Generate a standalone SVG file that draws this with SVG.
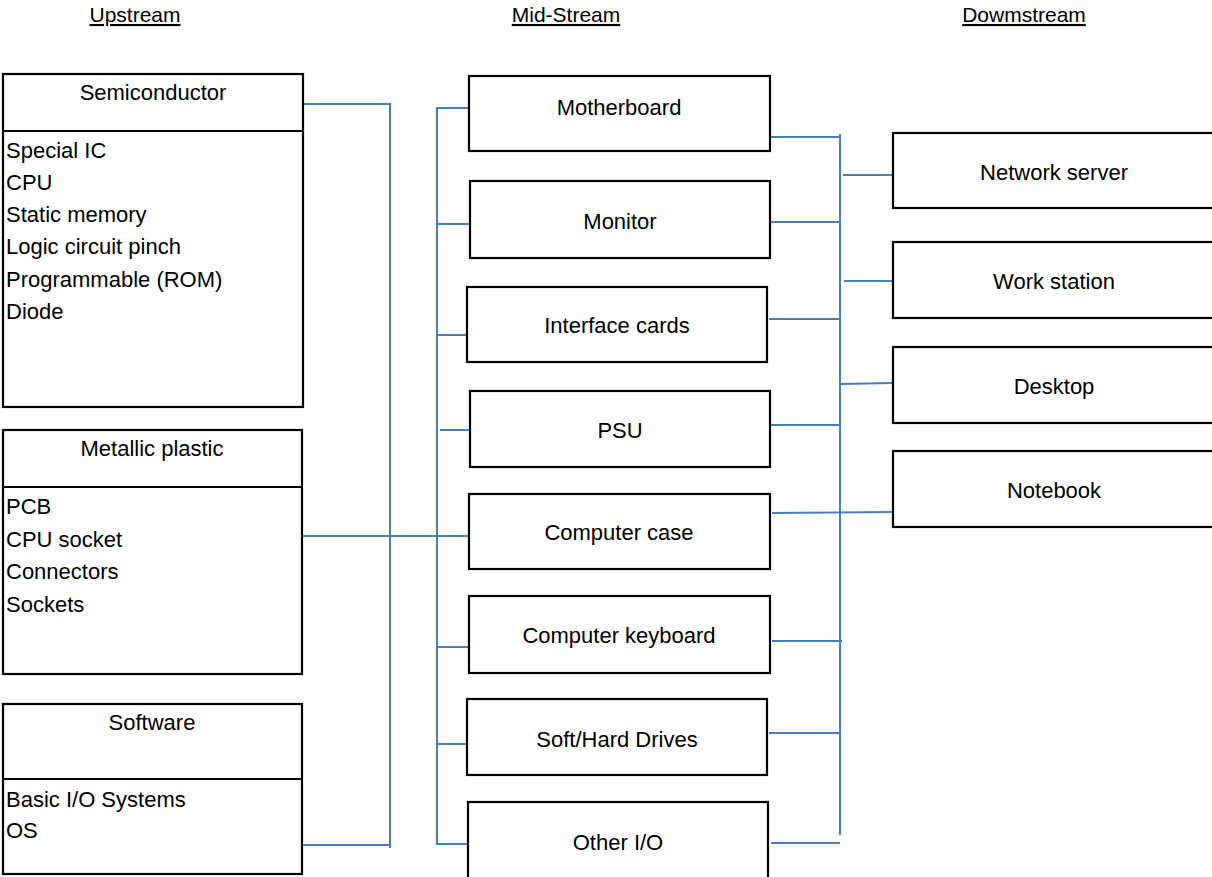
<svg xmlns="http://www.w3.org/2000/svg" width="1212" height="877" viewBox="0 0 1212 877">
<style>
.box{fill:#fff;stroke:#000;stroke-width:2.2}
.div{stroke:#000;stroke-width:2.2}
.t{font-family:"Liberation Sans",Arial,sans-serif;font-size:22px;fill:#000}
.c{text-anchor:middle}
.h{text-decoration:underline;font-size:21px}
.ln{stroke:#4a7ebb;stroke-width:2;fill:none}
</style>
<rect width="1212" height="877" fill="#fff"/>
<g id="headers">
<text class="t c h" x="135" y="22">Upstream</text>
<text class="t c h" x="566" y="22">Mid-Stream</text>
<text class="t c h" x="1024" y="22">Dowmstream</text>
</g>
<g id="connectors">
<path class="ln" d="M303 104H390V848"/>
<path class="ln" d="M303 845H390"/>
<path class="ln" d="M303 536H469"/>
<path class="ln" d="M469 108H437V844H468"/>
<path class="ln" d="M437 224H470"/>
<path class="ln" d="M437 335H467"/>
<path class="ln" d="M440 430H470"/>
<path class="ln" d="M438 647H469"/>
<path class="ln" d="M437 744H467"/>
<path class="ln" d="M770 137H840"/>
<path class="ln" d="M840 134V835"/>
<path class="ln" d="M771 222H840"/>
<path class="ln" d="M769 319H840"/>
<path class="ln" d="M770 425H840"/>
<path class="ln" d="M772 513L893 512"/>
<path class="ln" d="M772 641H842"/>
<path class="ln" d="M769 733H840"/>
<path class="ln" d="M771 843H840"/>
<path class="ln" d="M843 175H893"/>
<path class="ln" d="M844 281H893"/>
<path class="ln" d="M841 384L892 383"/>
</g>
<g id="semiconductor">
<rect class="box" x="3" y="74" width="300" height="333"/>
<line class="div" x1="3" y1="131" x2="303" y2="131"/>
<text class="t c" x="153" y="100">Semiconductor</text>
<text class="t" x="6" y="158">Special IC</text>
<text class="t" x="6" y="190">CPU</text>
<text class="t" x="6" y="222">Static memory</text>
<text class="t" x="6" y="254">Logic circuit pinch</text>
<text class="t" x="6" y="287">Programmable (ROM)</text>
<text class="t" x="6" y="319">Diode</text>
</g>
<g id="metallic">
<rect class="box" x="3" y="430" width="299" height="244"/>
<line class="div" x1="3" y1="487" x2="302" y2="487"/>
<text class="t c" x="152" y="456">Metallic plastic</text>
<text class="t" x="6" y="514">PCB</text>
<text class="t" x="6" y="547">CPU socket</text>
<text class="t" x="6" y="579">Connectors</text>
<text class="t" x="6" y="612">Sockets</text>
</g>
<g id="software">
<rect class="box" x="3" y="704" width="299" height="170"/>
<line class="div" x1="3" y1="779" x2="302" y2="779"/>
<text class="t c" x="152" y="730">Software</text>
<text class="t" x="6" y="807">Basic I/O Systems</text>
<text class="t" x="6" y="838">OS</text>
</g>
<g id="motherboard"><rect class="box" x="469" y="76" width="301" height="75"/><text class="t c" x="619" y="115">Motherboard</text></g>
<g id="monitor"><rect class="box" x="470" y="181" width="300" height="77"/><text class="t c" x="620" y="229">Monitor</text></g>
<g id="interface"><rect class="box" x="467" y="287" width="300" height="75"/><text class="t c" x="617" y="333">Interface cards</text></g>
<g id="psu"><rect class="box" x="470" y="391" width="300" height="76"/><text class="t c" x="620" y="438">PSU</text></g>
<g id="case"><rect class="box" x="469" y="494" width="301" height="75"/><text class="t c" x="619" y="540">Computer case</text></g>
<g id="keyboard"><rect class="box" x="469" y="596" width="301" height="77"/><text class="t c" x="619" y="643">Computer keyboard</text></g>
<g id="drives"><rect class="box" x="467" y="699" width="300" height="76"/><text class="t c" x="617" y="747">Soft/Hard Drives</text></g>
<g id="otherio"><rect class="box" x="468" y="802" width="300" height="80"/><text class="t c" x="618" y="850">Other I/O</text></g>
<g id="server"><rect class="box" x="893" y="133" width="330" height="75"/><text class="t c" x="1054" y="180">Network server</text></g>
<g id="workstation"><rect class="box" x="893" y="242" width="330" height="76"/><text class="t c" x="1054" y="289">Work station</text></g>
<g id="desktop"><rect class="box" x="893" y="347" width="330" height="76"/><text class="t c" x="1054" y="394">Desktop</text></g>
<g id="notebook"><rect class="box" x="893" y="451" width="330" height="76"/><text class="t c" x="1054" y="498">Notebook</text></g>
</svg>
